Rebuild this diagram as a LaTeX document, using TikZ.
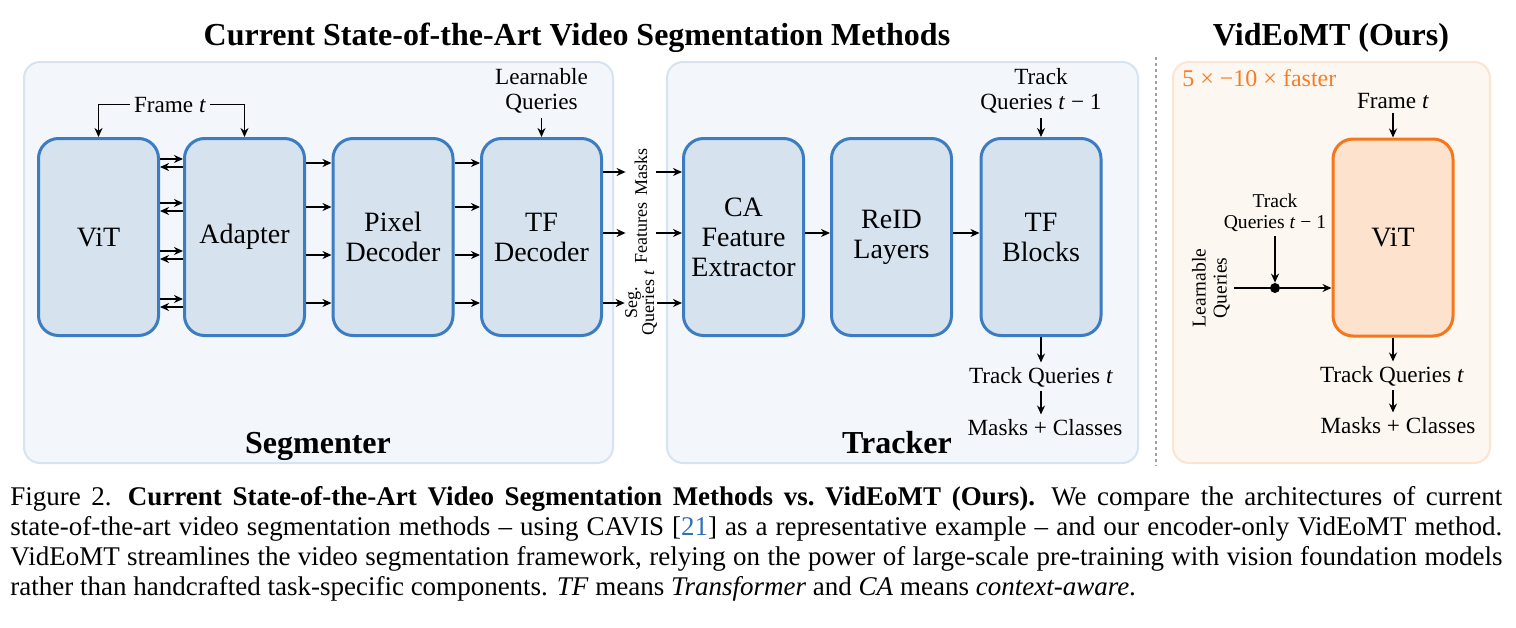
\documentclass[tikz,border=0pt]{standalone}
\usepackage{fontspec}
\setmainfont{Liberation Serif}
\newfontfamily\tms[Ligatures=TeX]{Liberation Serif}
\usetikzlibrary{arrows.meta}
\definecolor{panelfill}{RGB}{243,247,251}
\definecolor{paneldraw}{RGB}{214,228,241}
\definecolor{boxfill}{RGB}{214,227,239}
\definecolor{boxdraw}{RGB}{60,124,192}
\definecolor{opanelfill}{RGB}{253,247,242}
\definecolor{opaneldraw}{RGB}{252,228,208}
\definecolor{oboxfill}{RGB}{253,226,205}
\definecolor{oboxdraw}{RGB}{246,118,28}
\definecolor{otext}{RGB}{246,125,36}
\definecolor{citeblue}{RGB}{45,112,190}
\begin{document}
\begin{tikzpicture}[x=0.5pt,y=-0.5pt,
  panel/.style={draw=paneldraw, fill=panelfill, line width=1pt, rounded corners=8pt},
  opanel/.style={draw=opaneldraw, fill=opanelfill, line width=1pt, rounded corners=8pt},
  divider/.style={draw=gray!75, line width=1pt, dash pattern=on 1.5pt off 1.5pt},
  block/.style={draw=boxdraw, fill=boxfill, line width=1.5pt, rounded corners=10pt, minimum width=60pt, minimum height=98.5pt, align=center, inner sep=2pt, font=\tms\fontsize{14}{15}\selectfont},
  oblock/.style={block, draw=oboxdraw, fill=oboxfill},
  lab/.style={inner sep=2pt, font=\tms\fontsize{11.6}{12.5}\selectfont, align=center},
  slab/.style={inner sep=2pt, font=\tms\fontsize{9.8}{10.5}\selectfont, align=center},
  rlab/.style={rotate=90, inner sep=0pt, minimum height=15pt, font=\tms\fontsize{9}{8.5}\selectfont, align=center},
  otxt/.style={inner sep=0pt, font=\tms\fontsize{12}{13}\selectfont, text=otext},
  arr/.style={-{Stealth[length=4.5pt,width=4pt]}, line width=0.9pt},
  ln/.style={line width=0.9pt},
  ttl/.style={font=\tms\fontsize{16}{18}\selectfont\bfseries, inner sep=0pt},
]
\useasboundingbox (0,0) rectangle (1516,627);
\fill[white] (0,0) rectangle (1516,627);

% titles
\node[ttl, anchor=base] (t1) at (577,45) {Current State-of-the-Art Video Segmentation Methods};
\node[ttl, anchor=base] (t2) at (1331,45) {VidEoMT (Ours)};

% panels
\draw[panel] (24,62) rectangle (613,463);
\draw[panel] (667,62) rectangle (1138,463);
\draw[opanel] (1173,62) rectangle (1490,463);
\draw[divider] (1156,57) -- (1156,466);

% blocks
\node[block] (vit) at (98.5,237) {ViT};
\node[block] (adp) at (244.5,237) {Adapter};
\node[block] (pix) at (393,237) {Pixel\\Decoder};
\node[block] (tfd) at (541.5,237) {TF\\Decoder};
\node[block] (caf) at (743.5,237) {CA\\Feature\\Extractor};
\node[block] (reid) at (891.5,237) {ReID\\Layers};
\node[block] (tfb) at (1041,237) {TF\\Blocks};
\node[oblock] (ovit) at (1393,237.5) {ViT};

% segmenter inputs
\node[lab, anchor=base] (fr1) at (170,112) {Frame \textit{t}};
\draw[arr] (fr1.west) -| (vit.north);
\draw[arr] (fr1.east) -| (adp.north);
\node[lab] (lq1) at (541.5,91) {Learnable\\Queries};
\draw[arr] (lq1.south) -- (tfd.north);

% ViT <-> Adapter, Adapter -> Pixel -> TF
\foreach \y in {163,207,255,303} {
  \draw[arr] (vit.east |- 0,\y-4) -- (adp.west |- 0,\y-4);
  \draw[arr] (adp.west |- 0,\y+4) -- (vit.east |- 0,\y+4);
  \draw[arr] (adp.east |- 0,\y) -- (pix.west |- 0,\y);
  \draw[arr] (pix.east |- 0,\y) -- (tfd.west |- 0,\y);
}

% between segmenter and tracker
\node[rlab] (msk) at (641,172) {Masks};
\node[rlab] (fea) at (641,233) {Features};
\node[rlab] (sq) at (641,303) {Seg.\\Queries \textit{t}};
\foreach \n in {msk,fea,sq} {
  \draw[arr] (tfd.east |- \n) -- (\n);
  \draw[arr] (\n) -- (caf.west |- \n);
}
\draw[arr] (caf.east |- 0,233) -- (reid.west |- 0,233);
\draw[arr] (reid.east |- 0,233) -- (tfb.west |- 0,233);

% tracker in/out
\node[lab] (tq1) at (1041,91) {Track\\Queries \textit{t} − 1};
\draw[arr] (tq1.south) -- (tfb.north);
\node[lab, anchor=base] (tqt1) at (1041,383) {Track Queries \textit{t}};
\node[lab, anchor=base] (mc1) at (1045,435) {Masks + Classes};
\draw[arr] (tfb.south) -- (tqt1.north);
\draw[arr] (tqt1.south) -- (tqt1.south |- mc1.north);

\node[ttl, anchor=base] (segl) at (318,453) {Segmenter};
\node[ttl, anchor=base] (trkl) at (897,453) {Tracker};

% ours
\node[otxt, anchor=base west] (fast) at (1182,86) {5 × −10 × faster};
\node[lab, anchor=base] (fr2) at (1393,108) {Frame \textit{t}};
\draw[arr] (fr2.south) -- (ovit.north);
\node[slab] (tq2) at (1275,213) {Track\\Queries \textit{t} − 1};
\node[circle, fill=black, inner sep=0pt, minimum size=5pt] (dot) at (1275,288) {};
\node[slab, rotate=90] (lq2) at (1211,288) {Learnable\\Queries};
\draw[arr] (tq2.south) -- (dot.north);
\draw[ln] (lq2.south) -- (dot.center);
\draw[arr] (dot) -- (ovit.west |- dot);
\node[lab, anchor=base] (tqt2) at (1392,382) {Track Queries \textit{t}};
\node[lab, anchor=base] (mc2) at (1398,433) {Masks + Classes};
\draw[arr] (ovit.south) -- (ovit.south |- tqt2.north);
\draw[arr] (ovit.south |- tqt2.south) -- (ovit.south |- mc2.north);

% caption
\node[anchor=base west, inner sep=0pt] (cap) at (10,505) {\tms\fontsize{13.5}{15}\selectfont\vtop{%
\hbox to 746pt{Figure 2.\hspace{0.6em}\textbf{Current State-of-the-Art Video Segmentation Methods vs.\ VidEoMT (Ours).}\hspace{0.6em}We compare the architectures of current}%
\hbox to 746pt{state-of-the-art video segmentation methods – using CAVIS [\textcolor{citeblue}{21}] as a representative example – and our encoder-only VidEoMT method.}%
\hbox to 746pt{VidEoMT streamlines the video segmentation framework, relying on the power of large-scale pre-training with vision foundation models}%
\hbox{rather than handcrafted task-specific components. \textit{TF} means \textit{Transformer} and \textit{CA} means \textit{context-aware}.}}};
\end{tikzpicture}
\end{document}
